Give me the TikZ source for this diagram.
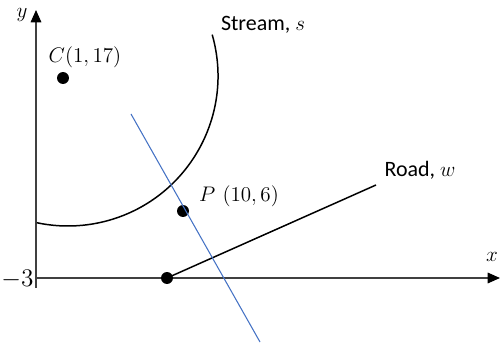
\documentclass[tikz,border=0pt]{standalone}
\usepackage{fontspec}
\newfontfamily\carlito{Carlito}
\usetikzlibrary{arrows.meta}
\begin{document}
\begin{tikzpicture}[x=0.02cm,y=-0.02cm,
  axisline/.style={line width=0.9pt,draw=black!75,-{Triangle[length=7pt,width=6pt,black]}},
  curve/.style={line width=0.85pt,black},
  bluel/.style={line width=0.6pt,draw={rgb,255:red,68;green,114;blue,196}},
  dot/.style={circle,fill=black,inner sep=0pt,minimum size=6.8pt},
  lab/.style={inner sep=0pt,font=\fontsize{12.5}{14}\selectfont},
  wordlab/.style={inner sep=0pt,font=\carlito\fontsize{12.5}{14}\selectfont}]
\useasboundingbox (0,0) rectangle (500,347);
% axes
\coordinate (ybot) at (36,288);
\coordinate (ytop) at (36,10);
\coordinate (xleft) at (36,278);
\coordinate (xright) at (500,278);
\draw[axisline] (ybot) -- (ytop);
\draw[axisline] (xleft) -- (xright);
\node[lab] (ylab) at (22,15) {$y$};
\node[lab] (xlab) at (492,257) {$x$};
\node[inner sep=0pt,font=\fontsize{15}{18}\selectfont] (m3) at (17.5,279) {$-3$};
% stream
\coordinate (S) at (68,76);
\draw[curve] (S) ++(-16:150) arc[start angle=-16,end angle=102,radius=150];
\node[wordlab] (slab) at (263,25) {Stream, $s$};
% points
\node[dot] (C) at (63,78) {};
\node[lab] (clab) at (85,57) {$C(1,17)$};
\node[dot] (P) at (183,211) {};
\node[lab] (plab) at (239,196) {$P\ (10,6)$};
% road
\node[dot] (R) at (167,278) {};
\coordinate (Rend) at (376,185);
\draw[curve] (R.center) -- (Rend);
\node[wordlab] (rlab) at (420,170) {Road, $w$};
% blue line
\coordinate (B1) at (131,114);
\coordinate (B2) at (260,342);
\draw[bluel] (B1) -- (B2);
\end{tikzpicture}
\end{document}
